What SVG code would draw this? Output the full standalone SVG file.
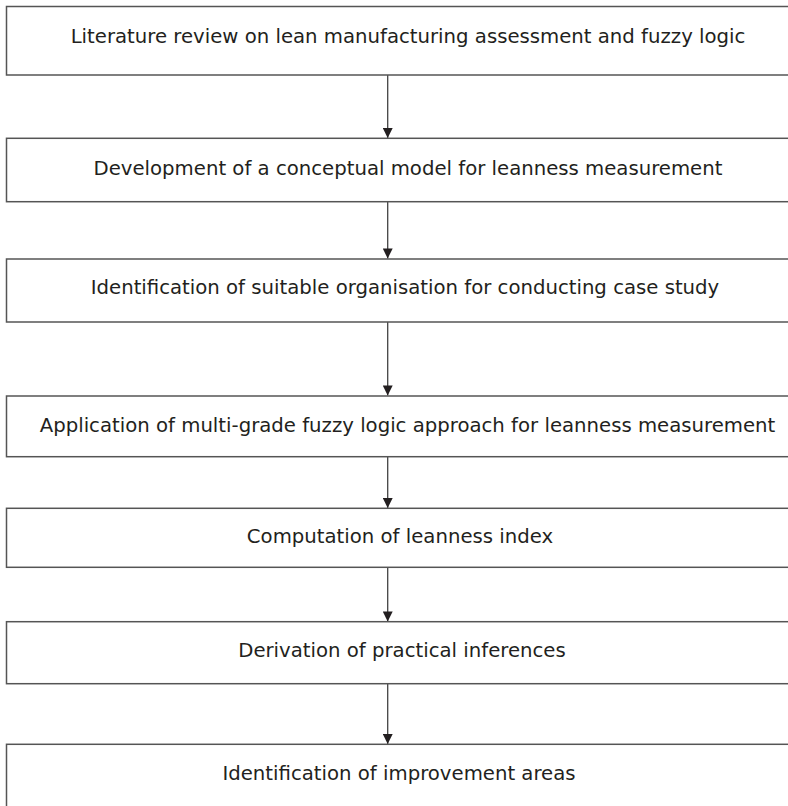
<svg xmlns="http://www.w3.org/2000/svg" width="788" height="806" viewBox="0 0 788 806">
<style>
.box{fill:#fff;stroke:#555;stroke-width:1.5}
.lbl{font-family:"DejaVu Sans","Open Sans",sans-serif;font-size:19.7px;fill:#231f20;text-anchor:middle}
.conn{stroke:#444;stroke-width:1.3;fill:none;marker-end:url(#ah)}
</style>
<defs>
<marker id="ah" viewBox="0 0 10 10" refX="10" refY="5" markerWidth="11" markerHeight="10" markerUnits="userSpaceOnUse" orient="auto">
<path d="M0,0 L10,5 L0,10 z" fill="#231f20"/>
</marker>
</defs>
<rect width="788" height="806" fill="#fff"/>
<g id="connectors">
<line class="conn" x1="387.7" y1="75" x2="387.7" y2="138"/>
<line class="conn" x1="387.7" y1="202" x2="387.7" y2="258.5"/>
<line class="conn" x1="387.7" y1="322" x2="387.7" y2="395.5"/>
<line class="conn" x1="387.7" y1="457" x2="387.7" y2="508"/>
<line class="conn" x1="387.7" y1="567.5" x2="387.7" y2="621.5"/>
<line class="conn" x1="387.7" y1="684" x2="387.7" y2="744"/>
</g>
<g id="n1"><rect class="box" x="6.5" y="6.5" width="800" height="68.5"/><text class="lbl" x="408" y="43.3">Literature review on lean manufacturing assessment and fuzzy logic</text></g>
<g id="n2"><rect class="box" x="6.5" y="138.3" width="800" height="63.4"/><text class="lbl" x="408" y="175">Development of a conceptual model for leanness measurement</text></g>
<g id="n3"><rect class="box" x="6.5" y="259" width="800" height="63"/><text class="lbl" x="405" y="294">Identification of suitable organisation for conducting case study</text></g>
<g id="n4"><rect class="box" x="6.5" y="396" width="800" height="60.7"/><text class="lbl" x="407.5" y="431.7">Application of multi-grade fuzzy logic approach for leanness measurement</text></g>
<g id="n5"><rect class="box" x="6.5" y="508.3" width="800" height="59"/><text class="lbl" x="400" y="543.3">Computation of leanness index</text></g>
<g id="n6"><rect class="box" x="6.5" y="621.7" width="800" height="62"/><text class="lbl" x="402" y="657.3">Derivation of practical inferences</text></g>
<g id="n7"><rect class="box" x="6.5" y="744.3" width="800" height="80"/><text class="lbl" x="399" y="780">Identification of improvement areas</text></g>
</svg>
